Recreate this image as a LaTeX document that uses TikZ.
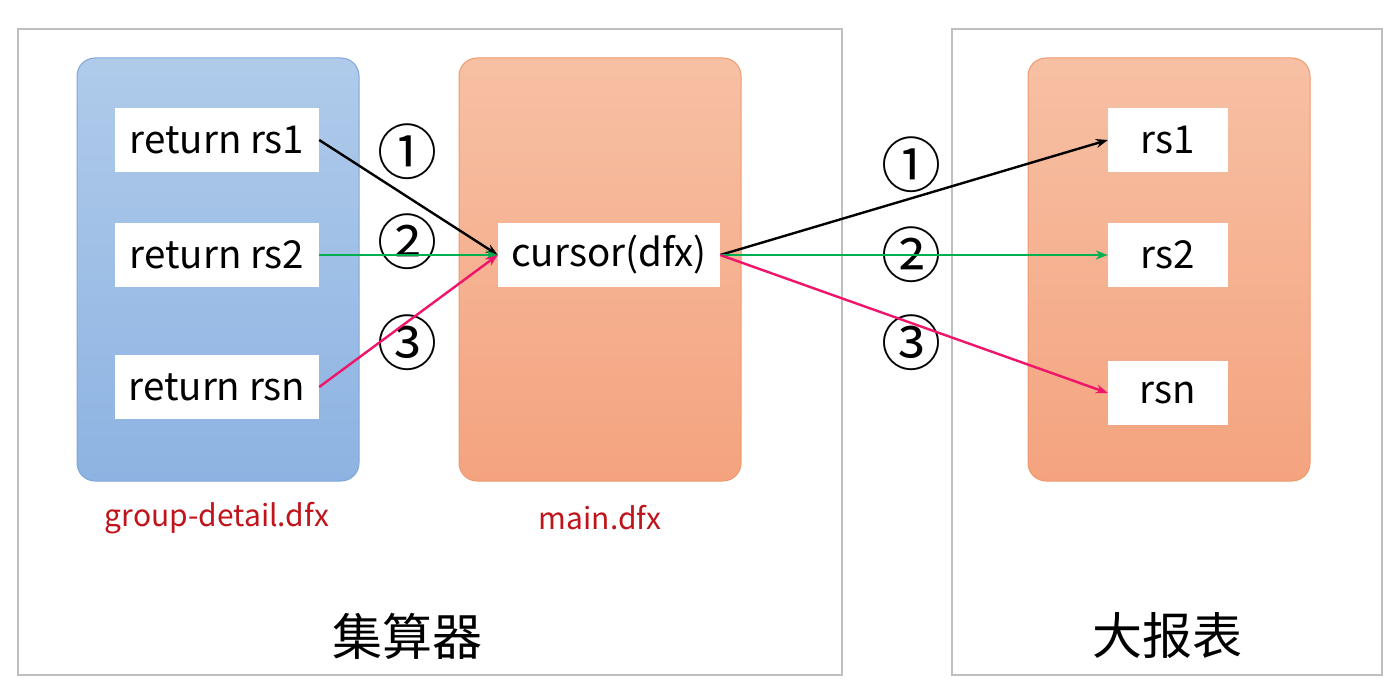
\documentclass[tikz,border=0pt]{standalone}
\usepackage{fontspec}
\setmainfont{Noto Sans CJK SC}
\usetikzlibrary{arrows.meta}
\definecolor{frameg}{HTML}{BFBFBF}
\definecolor{bluetop}{HTML}{B0CBEA}
\definecolor{bluebot}{HTML}{8DB3E2}
\definecolor{bluedraw}{HTML}{7FA7D9}
\definecolor{orgtop}{HTML}{F7C0A4}
\definecolor{orgbot}{HTML}{F4A37E}
\definecolor{orgdraw}{HTML}{EE9A6E}
\definecolor{lblred}{HTML}{C0141C}
\definecolor{arrgreen}{HTML}{00B050}
\definecolor{arrpink}{HTML}{F0146A}
\tikzset{
  x=1pt, y=-1pt,
  frame/.style={draw=frameg, line width=1.4pt},
  bluepanel/.style={rounded corners=18pt, draw=bluedraw, line width=1pt, top color=bluetop, bottom color=bluebot},
  orgpanel/.style={rounded corners=18pt, draw=orgdraw, line width=1pt, top color=orgtop, bottom color=orgbot},
  wbox/.style={fill=white, draw=none, inner sep=0pt, font=\fontsize{38.5}{44}\selectfont},
  circnum/.style={font=\fontsize{60}{66}\selectfont, inner sep=0pt},
  fname/.style={font=\fontsize{30}{34}\selectfont, text=lblred, inner sep=0pt},
  title/.style={font=\fontsize{50}{56}\selectfont, inner sep=0pt},
  conn/.style={line width=2.4pt, -{Stealth[length=12pt,width=9pt]}},
}
\begin{document}
\begin{tikzpicture}
\useasboundingbox (0,0) rectangle (1400,693);
\fill[white] (0,0) rectangle (1400,693);
% frames
\draw[frame] (18,29) rectangle (842,675);
\draw[frame] (952,29) rectangle (1382,675);
% panels
\path[bluepanel] (77,58) rectangle (359,481);
\path[orgpanel] (459,58) rectangle (741,481);
\path[orgpanel] (1028,58) rectangle (1310,481);
% white boxes
\node[wbox, minimum width=204pt, minimum height=64pt] (r1) at (217,140) {return rs1};
\node[wbox, minimum width=204pt, minimum height=64pt] (r2) at (217,255) {return rs2};
\node[wbox, minimum width=204pt, minimum height=64pt] (rn) at (217,387) {return rsn};
\node[wbox, minimum width=222pt, minimum height=64pt] (cur) at (609,255) {cursor(dfx)};
\node[wbox, minimum width=120pt, minimum height=64pt] (s1) at (1168,140) {rs1};
\node[wbox, minimum width=120pt, minimum height=64pt] (s2) at (1168,255) {rs2};
\node[wbox, minimum width=120pt, minimum height=64pt] (sn) at (1168,393) {rsn};
% labels
\node[fname] (lg) at (217,518) {group-detail.dfx};
\node[fname] (lm) at (600,518) {main.dfx};
\node[title] (t1) at (407,636) {集算器};
\node[title] (t2) at (1167,636) {大报表};
% circled numbers
\node[circnum] (c1) at (407,152) {①};
\node[circnum] (c2) at (407,242) {②};
\node[circnum] (c3) at (407,343) {③};
\node[circnum] (d1) at (911,165) {①};
\node[circnum] (d2) at (911,255) {②};
\node[circnum] (d3) at (911,343) {③};
% connectors
\draw[conn, black] (r1.east) -- (cur.west);
\draw[conn, arrgreen] (r2.east) -- (cur.west);
\draw[conn, arrpink] (rn.east) -- (cur.west);
\draw[conn, black] (cur.east) -- (s1.west);
\draw[conn, arrgreen] (cur.east) -- (s2.west);
\draw[conn, arrpink] (cur.east) -- (sn.west);
\end{tikzpicture}
\end{document}
